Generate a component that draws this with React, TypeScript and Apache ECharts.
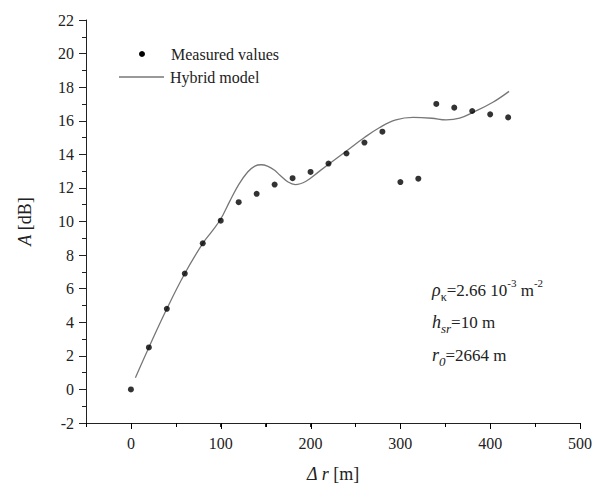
import React, { useEffect, useRef } from "react";
import * as echarts from "echarts";

const measuredX = [0, 20, 40, 60, 80, 100, 120, 140, 160, 180, 200, 220, 240, 260, 280, 300, 320, 340, 360, 380, 400, 420];
const measuredY = [0, 2.5, 4.8, 6.9, 8.7, 10.05, 11.15, 11.65, 12.2, 12.58, 12.95, 13.45, 14.05, 14.7, 15.35, 12.35, 12.55, 17.0, 16.78, 16.58, 16.38, 16.2];

const modelX = [5, 20, 40, 60, 80, 90, 100, 110, 120, 130, 138, 145, 152, 160, 166, 175, 183, 195, 210, 225, 240, 260, 277, 295, 314, 335, 351, 366, 381, 403, 421];
const modelY = [0.7, 2.5, 4.8, 6.9, 8.7, 9.4, 10.15, 11.2, 12.2, 12.95, 13.3, 13.38, 13.3, 13.05, 12.75, 12.35, 12.2, 12.4, 13.0, 13.6, 14.2, 15.0, 15.6, 16.05, 16.2, 16.15, 16.05, 16.15, 16.5, 17.1, 17.75];

const xMajorTicks = [0, 100, 200, 300, 400, 500];
const xMinorTicks = [-50, 50, 150, 250, 350, 450];
const Y_MIN = -2;

const FONT = "'Liberation Serif', 'Times New Roman', serif";

export default function App() {
  const ref = useRef<HTMLDivElement>(null);
  useEffect(() => {
    if (!ref.current) return;
    const chart = echarts.init(ref.current, null, { renderer: "svg" });
    const axisColor = "#222";
    const staticGraphics: any[] = [
      { type: "circle", shape: { cx: 142, cy: 54, r: 3 }, style: { fill: "#000" } },
      {
        type: "text",
        x: 171,
        y: 54,
        style: { text: "Measured values", font: `16px ${FONT}`, fill: "#222", verticalAlign: "middle" },
      },
      { type: "line", shape: { x1: 119, y1: 77, x2: 164, y2: 77 }, style: { stroke: "#777", lineWidth: 1.3 } },
      {
        type: "text",
        x: 170,
        y: 77,
        style: { text: "Hybrid model", font: `16px ${FONT}`, fill: "#222", verticalAlign: "middle" },
      },
      {
        type: "text",
        x: 432,
        y: 290,
        style: {
          text: "{i|ρ}{sub|κ}{n|=2.66 10}{sup|-3}{n| m}{sup|-2}",
          verticalAlign: "middle",
          rich: {
            i: { fontFamily: FONT, fontSize: 18, fontStyle: "italic", fill: "#222", lineHeight: 26, verticalAlign: "middle" },
            n: { fontFamily: FONT, fontSize: 17, fill: "#222", lineHeight: 26, verticalAlign: "middle" },
            sub: { fontFamily: FONT, fontSize: 12, fill: "#222", lineHeight: 26, verticalAlign: "bottom" },
            sup: { fontFamily: FONT, fontSize: 11, fill: "#222", lineHeight: 26, verticalAlign: "top" },
          },
        },
      },
      {
        type: "text",
        x: 432,
        y: 322,
        style: {
          text: "{i|h}{sub|sr}{n|=10 m}",
          verticalAlign: "middle",
          rich: {
            i: { fontFamily: FONT, fontSize: 18, fontStyle: "italic", fill: "#222", lineHeight: 26, verticalAlign: "middle" },
            n: { fontFamily: FONT, fontSize: 17, fill: "#222", lineHeight: 26, verticalAlign: "middle" },
            sub: { fontFamily: FONT, fontSize: 13, fontStyle: "italic", fill: "#222", lineHeight: 26, verticalAlign: "bottom" },
          },
        },
      },
      {
        type: "text",
        x: 432,
        y: 355,
        style: {
          text: "{i|r}{sub|0}{n|=2664 m}",
          verticalAlign: "middle",
          rich: {
            i: { fontFamily: FONT, fontSize: 18, fontStyle: "italic", fill: "#222", lineHeight: 26, verticalAlign: "middle" },
            n: { fontFamily: FONT, fontSize: 17, fill: "#222", lineHeight: 26, verticalAlign: "middle" },
            sub: { fontFamily: FONT, fontSize: 13, fontStyle: "italic", fill: "#222", lineHeight: 26, verticalAlign: "bottom" },
          },
        },
      },
    ];
    chart.setOption({
      animation: false,
      backgroundColor: "#fff",
      grid: { left: 86, right: 15, top: 20, bottom: 61, containLabel: false, outerBoundsMode: "none" },
      xAxis: {
        type: "value",
        min: -50,
        max: 500,
        interval: 50,
        position: "bottom",
        name: "{i|Δ r} [m]",
        nameLocation: "middle",
        nameGap: 42,
        nameTextStyle: {
          fontFamily: FONT,
          fontSize: 18,
          color: "#222",
          rich: { i: { fontFamily: FONT, fontSize: 18, fontStyle: "italic", color: "#222" } },
        },
        axisLine: { show: true, onZero: false, lineStyle: { color: axisColor, width: 1 } },
        axisTick: { show: true, length: 4, lineStyle: { color: axisColor, width: 1 } },
        axisLabel: {
          fontFamily: FONT,
          fontSize: 16,
          color: "#222",
          margin: 12,
          showMinLabel: false,
          formatter: (v: number) => (xMajorTicks.indexOf(v) >= 0 ? String(v) : ""),
        },
        splitLine: { show: false },
      },
      yAxis: {
        type: "value",
        min: Y_MIN,
        max: 22,
        interval: 2,
        name: "{i|A} [dB]",
        nameLocation: "middle",
        nameGap: 52,
        nameRotate: 90,
        nameTextStyle: {
          fontFamily: FONT,
          fontSize: 18,
          color: "#222",
          rich: { i: { fontFamily: FONT, fontSize: 18, fontStyle: "italic", color: "#222" } },
        },
        axisLine: { show: true, onZero: false, lineStyle: { color: axisColor, width: 1 } },
        axisTick: { show: true, length: 7, lineStyle: { color: axisColor } },
        minorTick: { show: true, splitNumber: 2, length: 4, lineStyle: { color: axisColor } },
        axisLabel: { fontFamily: FONT, fontSize: 16, color: "#222", margin: 12 },
        splitLine: { show: false },
        minorSplitLine: { show: false },
      },
      series: [
        {
          name: "Hybrid model",
          type: "line",
          data: modelX.map((x, i) => [x, modelY[i]]),
          smooth: 0.4,
          showSymbol: false,
          lineStyle: { color: "#777", width: 1.3 },
          z: 2,
        },
        {
          name: "Measured values",
          type: "scatter",
          data: measuredX.map((x, i) => [x, measuredY[i]]),
          symbol: "circle",
          symbolSize: 6,
          itemStyle: { color: "#000" },
          z: 3,
        },
      ],
      graphic: staticGraphics,
    });
    const tickLines: any[] = [];
    const addTick = (v: number, len: number) => {
      const p = chart.convertToPixel({ gridIndex: 0 }, [v, Y_MIN]) as number[];
      if (!p) return;
      const x = Math.round(p[0]) + 0.5;
      const y = Math.round(p[1]);
      tickLines.push({
        type: "line",
        silent: true,
        z: 10,
        shape: { x1: x, y1: y, x2: x, y2: y + len },
        style: { stroke: "#000", lineWidth: 1 },
      });
    };
    xMajorTicks.forEach((v) => addTick(v, 6));
    xMinorTicks.forEach((v) => addTick(v, 4));
    chart.setOption({ graphic: [...staticGraphics, ...tickLines] });
    return () => chart.dispose();
  }, []);
  return <div ref={ref} style={{ width: 595, height: 484, position: "absolute", left: 0, top: 0 }} />;
}
